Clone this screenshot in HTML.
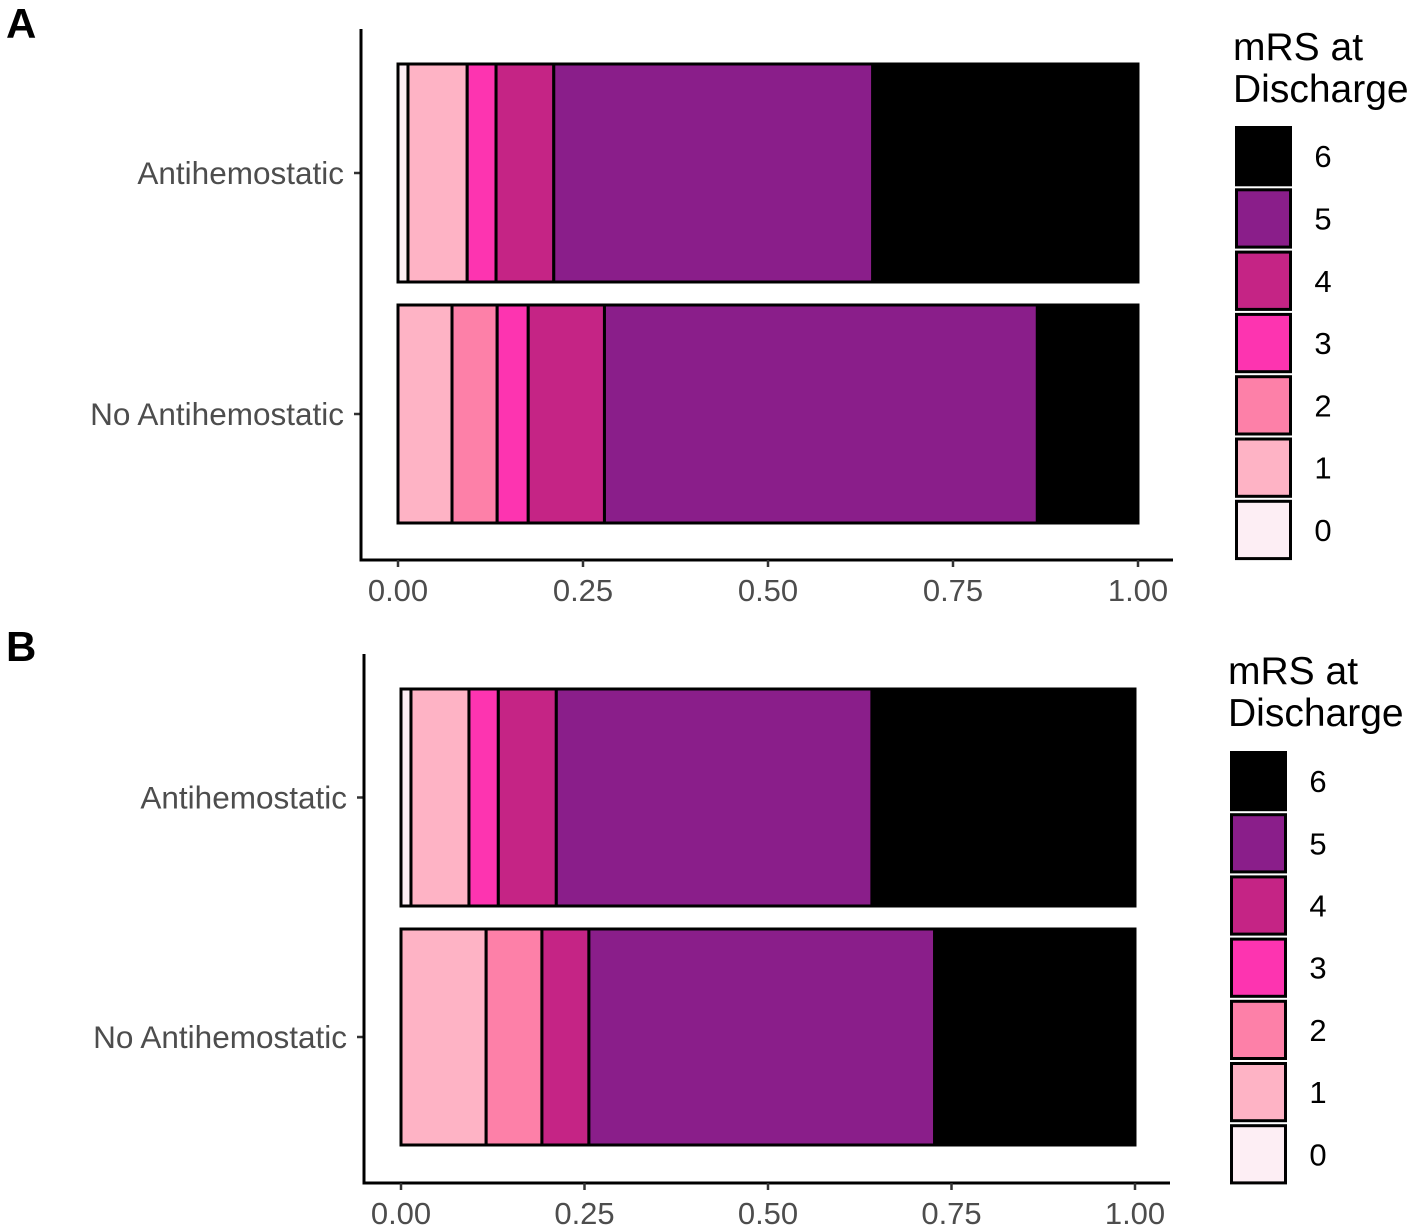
<!DOCTYPE html>
<html><head><meta charset="utf-8"><style>
html,body{margin:0;padding:0;background:#fff}
svg{display:block;font-family:"Liberation Sans",Arial,sans-serif}
</style></head><body>
<svg id="chart" width="1418" height="1230" viewBox="0 0 1418 1230"></svg>
<script>
const categories = ["Antihemostatic", "No Antihemostatic"];
const levels = ["0","1","2","3","4","5","6"];
const colors = ["#fdeef4","#feb3c5","#fd80a8","#fd34b0","#c52485","#8a1e8a","#000000"];
const xTicks = [0, 0.25, 0.5, 0.75, 1.0];
const xTickLabels = ["0.00","0.25","0.50","0.75","1.00"];
// proportions per mRS level 0..6
const panelA_anti = [0.0135, 0.080, 0.0, 0.039, 0.078, 0.431, 0.3585];
const panelA_no   = [0.0, 0.073, 0.061, 0.042, 0.103, 0.585, 0.136];
const panelB_anti = [0.0136, 0.079, 0.0, 0.040, 0.079, 0.430, 0.3584];
const panelB_no   = [0.0, 0.116, 0.076, 0.0, 0.064, 0.471, 0.273];

const svg = document.getElementById('chart');
const NS = 'http://www.w3.org/2000/svg';
function mk(tag, attrs, parent){const e=document.createElementNS(NS,tag);for(const k in attrs)e.setAttribute(k,attrs[k]);(parent||svg).appendChild(e);return e;}

function panel(cfg){
  const g = mk('g',{});
  
  
  const xs = v => cfg.x0 + v*(cfg.x1-cfg.x0);
  const lt = mk('text',{x:cfg.lx,y:cfg.ly,'font-size':42,'font-weight':'bold',fill:'#000'},g);
  lt.textContent = cfg.letter;
  
  
  const series = [cfg.anti, cfg.no];
  series.forEach((vals,ci)=>{
    const [yt,yb] = cfg.bars[ci];
    let acc = 0;
    vals.forEach((v,li)=>{
      if(v<=0) return;
      const r = mk('rect',{x:xs(acc),y:yt,width:xs(acc+v)-xs(acc),height:yb-yt,fill:colors[li],stroke:'#000','stroke-width':3},g);
      
      
      acc += v;
    });
    const yc = (yt+yb)/2;
    mk('line',{x1:cfg.ax-7,x2:cfg.ax,y1:yc,y2:yc,stroke:'#333','stroke-width':2.5},g);
    const t = mk('text',{x:cfg.ax-17,y:yc+11,'font-size':31.5,fill:'#4d4d4d','text-anchor':'end'},g);
    t.textContent = categories[ci];
    
    
  });
  const ya = mk('line',{x1:cfg.ax,x2:cfg.ax,y1:cfg.ayTop,y2:cfg.ay+1.5,stroke:'#000','stroke-width':3},g);
  
  
  const xa = mk('line',{x1:cfg.ax-1.5,x2:cfg.axRight,y1:cfg.ay,y2:cfg.ay,stroke:'#000','stroke-width':3},g);
  
  
  xTicks.forEach((v,i)=>{
    mk('line',{x1:xs(v),x2:xs(v),y1:cfg.ay,y2:cfg.ay+7,stroke:'#333','stroke-width':2.5},g);
    const t = mk('text',{x:xs(v),y:cfg.ay+41,'font-size':31,fill:'#4d4d4d','text-anchor':'middle'},g);
    t.textContent = xTickLabels[i];
    
    
  });
  const t1 = mk('text',{x:cfg.legX-2,y:cfg.legTitleY,'font-size':39,fill:'#000'},g);
  t1.textContent = 'mRS at';
  
  
  const t2 = mk('text',{x:cfg.legX-2,y:cfg.legTitleY+42,'font-size':39,fill:'#000'},g);
  t2.textContent = 'Discharge';
  
  
  for(let i=0;i<7;i++){
    const li = 6-i;
    const y = cfg.legY + i*cfg.legStep;
    const r = mk('rect',{x:cfg.legX+1.5,y:y+1.5,width:54,height:cfg.legStep-5,fill:colors[li],stroke:'#000','stroke-width':3},g);
    
    
    const t = mk('text',{x:cfg.legX+88,y:y+cfg.legStep/2+10,'font-size':31,fill:'#000','text-anchor':'middle'},g);
    t.textContent = levels[li];
    
    
  }
}
panel({letter:'A',lx:6,ly:38,x0:398,x1:1138,ax:361,ay:560,ayTop:29,axRight:1173,
  bars:[[64,282],[305,523]],anti:panelA_anti,no:panelA_no,
  legX:1235,legY:126,legStep:62.3,legTitleY:60});
panel({letter:'B',lx:6,ly:661,x0:401,x1:1135,ax:364,ay:1183,ayTop:654,axRight:1170,
  bars:[[689,906],[929,1145]],anti:panelB_anti,no:panelB_no,
  legX:1230,legY:751,legStep:62.2,legTitleY:684});
</script>
</body></html>
